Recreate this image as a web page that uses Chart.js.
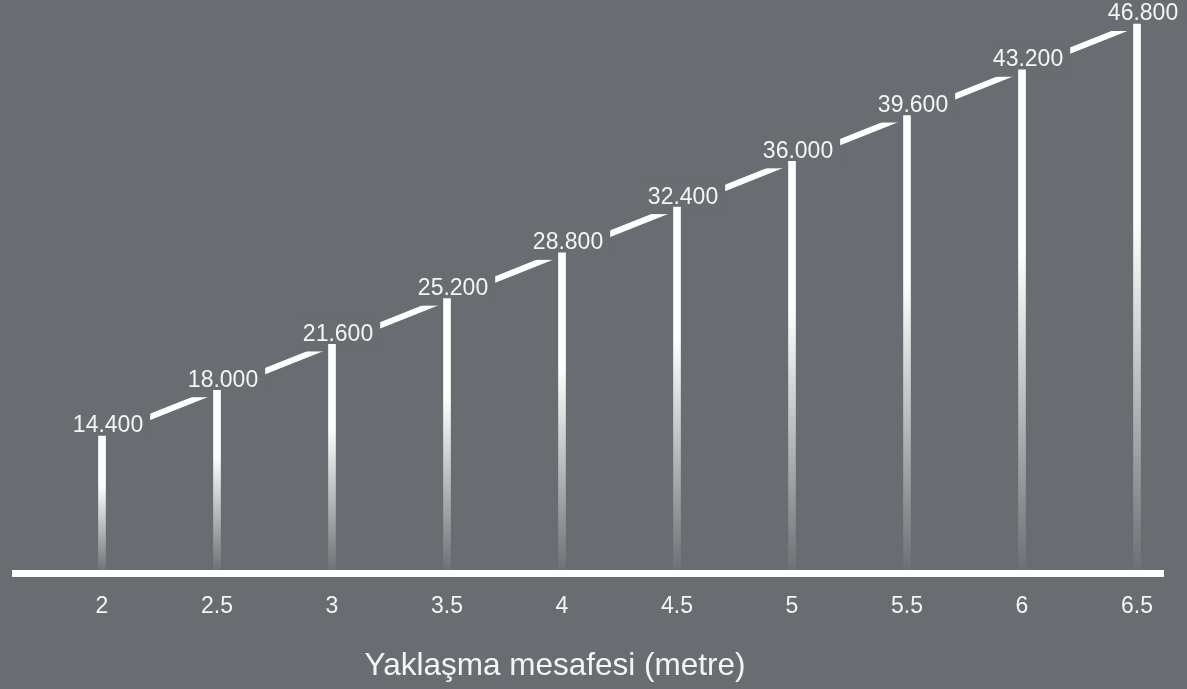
<!DOCTYPE html>
<html>
<head>
<meta charset="utf-8">
<script src="https://cdn.jsdelivr.net/npm/chart.js@4/dist/chart.umd.min.js"></script>
<style>
  html, body { margin: 0; padding: 0; background: #696d71; }
  #wrap { width: 1187px; height: 689px; }
</style>
</head>
<body>
<div id="wrap"><canvas id="approachChart"></canvas></div>
<script>
// Approach distance (m) and the matching values
const distances = [2, 2.5, 3, 3.5, 4, 4.5, 5, 5.5, 6, 6.5];
const values = [14400, 18000, 21600, 25200, 28800, 32400, 36000, 39600, 43200, 46800];
const axisTitle = 'Yaklaşma mesafesi (metre)';

const bgColor = '#696d71';
const textColor = '#f4f4f4';
const fontFamily = '"Liberation Sans", Arial, Helvetica, sans-serif';
const labelFont = '23px ' + fontFamily;

// 14400 -> "14.400"
function formatValue(v) {
  return String(v).replace(/\B(?=(\d{3})+(?!\d))/g, '.');
}

const points = distances.map((d, i) => ({ x: d, y: values[i] }));

// white bars fading out towards the axis
function barGradient(context) {
  const chart = context.chart;
  const area = chart.chartArea;
  if (!area || context.raw === undefined) return '#ffffff';
  const top = chart.scales.y.getPixelForValue(context.raw.y);
  const g = chart.ctx.createLinearGradient(0, top, 0, area.bottom);
  g.addColorStop(0, 'rgba(255,255,255,1)');
  g.addColorStop(0.36, 'rgba(255,255,255,1)');
  g.addColorStop(1, 'rgba(255,255,255,0.02)');
  return g;
}

function labelBoxes(chart) {
  const ctx = chart.ctx;
  const xs = chart.scales.x, ys = chart.scales.y;
  ctx.font = labelFont;
  return points.map(p => {
    const top = ys.getPixelForValue(p.y);
    const text = formatValue(p.y);
    return {
      text,
      cx: xs.getPixelForValue(p.x) + 6,
      base: top - 3.5,
      barTop: top,
      w: ctx.measureText(text).width
    };
  });
}

// boxes in the background colour cut the line around each label;
// drawn after the line and before the bars
const labelBackground = {
  id: 'labelBackground',
  beforeDatasetDraw(chart, args) {
    if (args.index !== 0) return;
    const ctx = chart.ctx;
    ctx.save();
    ctx.fillStyle = bgColor;
    labelBoxes(chart).forEach(b => {
      const top = b.base - 23;
      ctx.fillRect(b.cx - b.w / 2 - 7, top, b.w + 14, b.barTop + 7 - top);
    });
    ctx.restore();
  },
  afterDatasetsDraw(chart) {
    const ctx = chart.ctx;
    ctx.save();
    ctx.font = labelFont;
    ctx.fillStyle = textColor;
    ctx.textAlign = 'center';
    ctx.textBaseline = 'alphabetic';
    labelBoxes(chart).forEach(b => ctx.fillText(b.text, b.cx, b.base));
    ctx.restore();
  }
};

const axisTitleDraw = {
  id: 'axisTitleDraw',
  afterDraw(chart) {
    const ctx = chart.ctx;
    const area = chart.chartArea;
    ctx.save();
    ctx.font = '31.5px ' + fontFamily;
    ctx.fillStyle = textColor;
    ctx.textAlign = 'center';
    ctx.textBaseline = 'alphabetic';
    ctx.fillText(axisTitle, area.left + 540, 675);
    ctx.restore();
  }
};

const canvas = document.getElementById('approachChart').getContext('2d');
new Chart(canvas, {
  data: {
    datasets: [{
      type: 'bar',
      data: points,
      backgroundColor: barGradient,
      borderWidth: 0,
      barThickness: 7
    }, {
      type: 'line',
      data: points,
      borderColor: '#ffffff',
      borderWidth: 6,
      pointRadius: 0,
      tension: 0,
      fill: false
    }]
  },
  options: {
    responsive: true,
    maintainAspectRatio: false,
    animation: false,
    events: [],
    layout: { padding: { left: 15, right: 24, top: 0, bottom: 0 } },
    plugins: {
      legend: { display: false },
      tooltip: { enabled: false }
    },
    scales: {
      x: {
        type: 'linear',
        offset: false,
        min: 1.6217,
        max: 6.613,
        grid: { display: false, drawTicks: false },
        border: { display: true, color: '#ffffff', width: 7 },
        afterBuildTicks: scale => {
          scale.ticks = distances.map(v => ({ value: v }));
        },
        afterFit: scale => { scale.height = 116; },
        ticks: {
          color: textColor,
          font: { family: fontFamily, size: 23 },
          padding: 20,
          maxRotation: 0,
          autoSkip: false,
          callback: v => String(v)
        }
      },
      y: {
        display: false,
        min: 3626,
        max: 48687
      }
    }
  },
  plugins: [labelBackground, axisTitleDraw]
});
</script>
</body>
</html>
